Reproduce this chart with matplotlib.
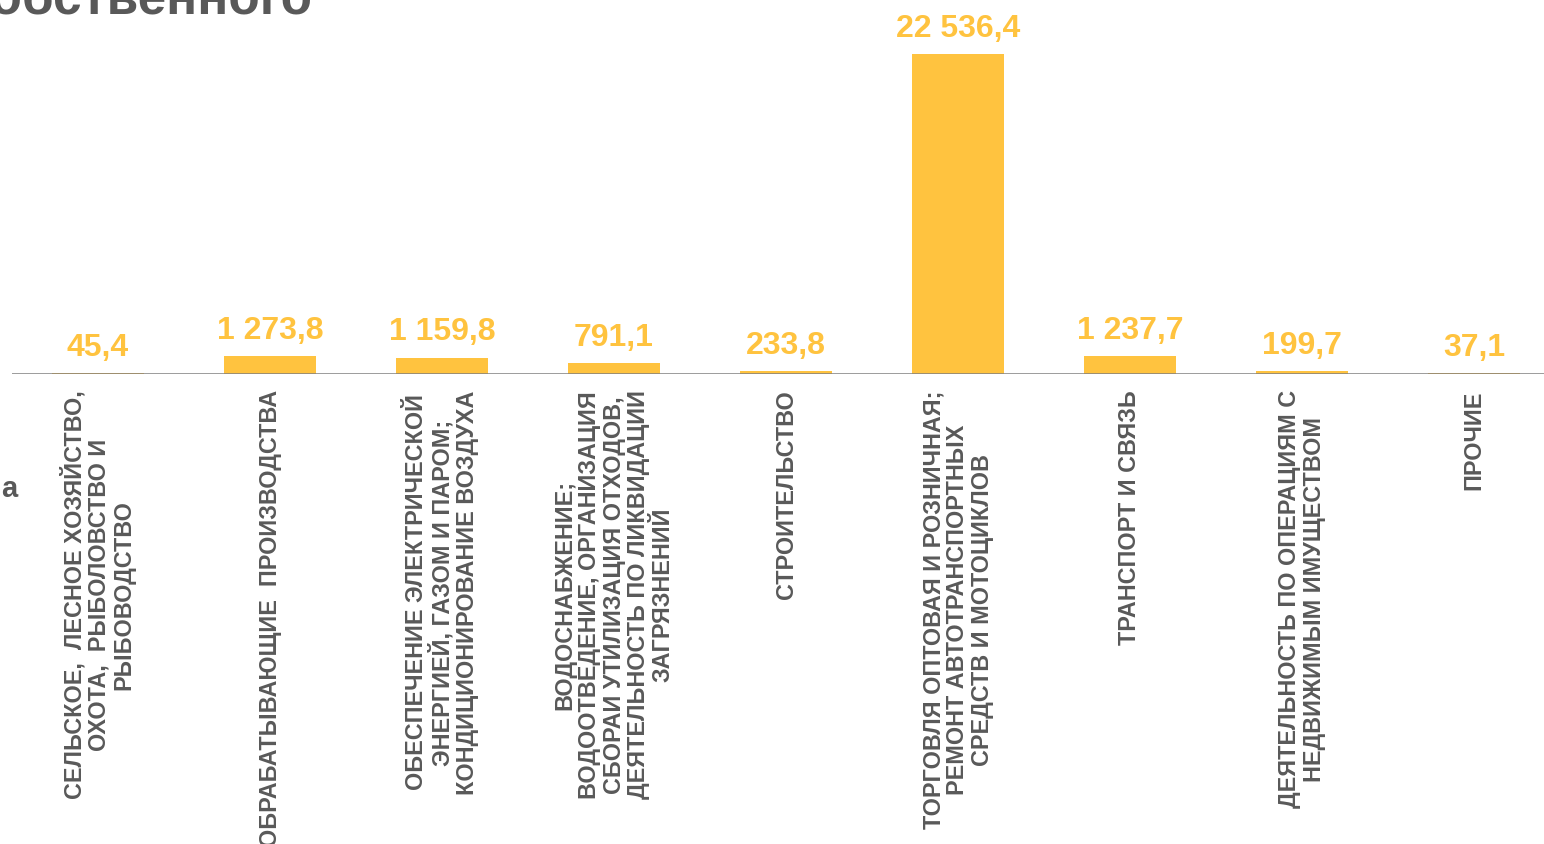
import matplotlib
matplotlib.use("Agg")
import matplotlib.pyplot as plt

plt.rcParams['font.family'] = ['Liberation Sans', 'DejaVu Sans']

categories = [
    "СЕЛЬСКОЕ,  ЛЕСНОЕ ХОЗЯЙСТВО,\nОХОТА,  РЫБОЛОВСТВО И\nРЫБОВОДСТВО",
    "ОБРАБАТЫВАЮЩИЕ  ПРОИЗВОДСТВА",
    "ОБЕСПЕЧЕНИЕ ЭЛЕКТРИЧЕСКОЙ\nЭНЕРГИЕЙ, ГАЗОМ И ПАРОМ;\nКОНДИЦИОНИРОВАНИЕ ВОЗДУХА",
    "ВОДОСНАБЖЕНИЕ;\nВОДООТВЕДЕНИЕ, ОРГАНИЗАЦИЯ\nСБОРАИ УТИЛИЗАЦИЯ ОТХОДОВ,\nДЕЯТЕЛЬНОСТЬ ПО ЛИКВИДАЦИИ\nЗАГРЯЗНЕНИЙ",
    "СТРОИТЕЛЬСТВО",
    "ТОРГОВЛЯ ОПТОВАЯ И РОЗНИЧНАЯ;\nРЕМОНТ АВТОТРАНСПОРТНЫХ\nСРЕДСТВ И МОТОЦИКЛОВ",
    "ТРАНСПОРТ И СВЯЗЬ",
    "ДЕЯТЕЛЬНОСТЬ ПО ОПЕРАЦИЯМ С\nНЕДВИЖИМЫМ ИМУЩЕСТВОМ",
    "ПРОЧИЕ",
]
values = [45.4, 1273.8, 1159.8, 791.1, 233.8, 22536.4, 1237.7, 199.7, 37.1]
title_fragment = "собственного"
side_fragment = "а"

W, H = 1544, 845
fig = plt.figure(figsize=(W / 100, H / 100), dpi=100)
fig.patch.set_facecolor('white')

base_px = 375
ax = fig.add_axes([12 / W, (H - base_px) / H, 1548 / W, base_px / H])
ax.set_xlim(-0.5, len(values) - 0.5)
ax.set_ylim(0, max(values) * 375 / 320)

bar_color = '#FFC33F'
gray = '#595959'

x = list(range(len(values)))
ax.bar(x, values, width=0.538, color=bar_color, zorder=2)
ax.axhline(0, color='#7F7F7F', linewidth=1.8, zorder=3)

for s in ax.spines.values():
    s.set_visible(False)
ax.set_xticks([])
ax.set_yticks([])
ax.patch.set_alpha(0)

def fmt(v):
    return f"{v:,.1f}".replace(",", " ").replace(".", ",")

for xi, v in zip(x, values):
    ax.annotate(fmt(v), xy=(xi, v), xytext=(0, 13), textcoords='offset points',
                ha='center', va='baseline', fontsize=23, fontweight='bold',
                color=bar_color)

for xi, lab in zip(x, categories):
    ax.annotate(lab, xy=(xi, 0), xycoords=('data', 'axes fraction'),
                xytext=(0, -11), textcoords='offset points',
                ha='center', va='top', rotation=90, multialignment='center',
                fontsize=16.8, fontweight='bold', color=gray, linespacing=1.08)

fig.text(312 / W, 1 - 14 / H, title_fragment, ha='right', va='baseline',
         fontsize=37, fontweight='bold', color=gray)
fig.text(9 / W, 1 - 497 / H, side_fragment, ha='center', va='baseline',
         fontsize=21, fontweight='bold', color=gray)

fig.savefig('out.png', dpi=100, facecolor='white')
